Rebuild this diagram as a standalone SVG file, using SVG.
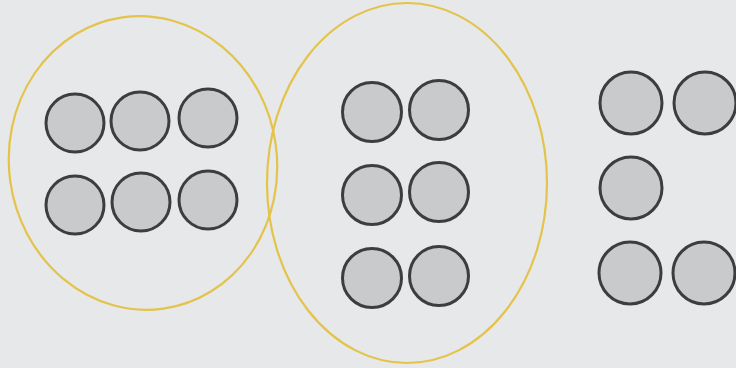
<svg xmlns="http://www.w3.org/2000/svg" width="736" height="368" viewBox="0 0 736 368">
<style>
.dot{fill:#c9cacb;stroke:#3d3d3f;stroke-width:3}
.ring{fill:none;stroke:#e3c34a;stroke-width:2.2}
</style>
<rect width="736" height="368" fill="#e7e8ea"/>
<g id="group-left">
<ellipse class="ring" cx="143" cy="163" rx="134" ry="147" transform="rotate(-8 143 163)"/>
<circle class="dot" cx="75" cy="123" r="29"/>
<circle class="dot" cx="140" cy="121" r="29"/>
<circle class="dot" cx="208" cy="118" r="29"/>
<circle class="dot" cx="75" cy="205" r="29"/>
<circle class="dot" cx="141" cy="202" r="29"/>
<circle class="dot" cx="208" cy="200" r="29"/>
</g>
<g id="group-middle">
<ellipse class="ring" cx="407" cy="183" rx="140" ry="180"/>
<circle class="dot" cx="372" cy="112" r="29.5"/>
<circle class="dot" cx="439" cy="110" r="29.5"/>
<circle class="dot" cx="372" cy="195" r="29.5"/>
<circle class="dot" cx="439" cy="192" r="29.5"/>
<circle class="dot" cx="372" cy="278" r="29.5"/>
<circle class="dot" cx="439" cy="276" r="29.5"/>
</g>
<g id="group-right">
<circle class="dot" cx="631" cy="103" r="31"/>
<circle class="dot" cx="705" cy="103" r="31"/>
<circle class="dot" cx="631" cy="188" r="31"/>
<circle class="dot" cx="630" cy="273" r="31"/>
<circle class="dot" cx="704" cy="273" r="31"/>
</g>
</svg>
